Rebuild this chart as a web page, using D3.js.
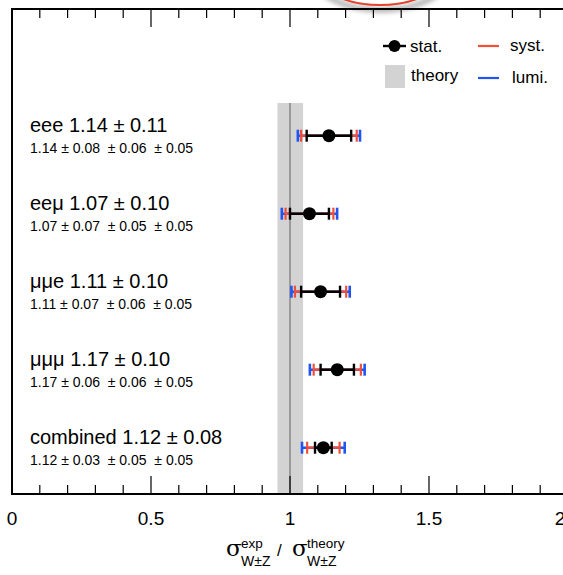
<!DOCTYPE html>
<html>
<head>
<meta charset="utf-8">
<script src="https://cdn.jsdelivr.net/npm/d3@7"></script>
<style>
  body { margin: 0; background: white; }
  svg { display: block; font-family: "Liberation Sans", Arial, sans-serif; }
</style>
</head>
<body>
<div id="chart"></div>
<script>
// chart values
const channels = ["eee", "eeμ", "μμe", "μμμ", "combined"];
const central = [1.14, 1.07, 1.11, 1.17, 1.12];
const totalErr = ["0.11", "0.10", "0.10", "0.10", "0.08"];
const statErr = [0.08, 0.07, 0.07, 0.06, 0.03];
const systErr = [0.06, 0.05, 0.06, 0.06, 0.05];
const lumiErr = [0.05, 0.05, 0.05, 0.05, 0.05];
const theoryBand = [0.955, 1.047];
const xTicks = [0, 0.5, 1, 1.5, 2];

const width = 563;
const height = 575;

const svg = d3.select("#chart").append("svg")
  .attr("width", width).attr("height", height);

const frame = { left: 12, top: 9, right: 568, bottom: 494 };

const x = d3.scaleLinear().domain([0, 2]).range([12, 568]);
const y = d3.scalePoint().domain(channels).range([135.7, 447.7]);

// red oval cut off at the top of the picture
const defs = svg.append("defs");
defs.append("filter").attr("id", "blur")
  .append("feGaussianBlur").attr("stdDeviation", 2.5);
svg.append("ellipse")
  .attr("cx", 381).attr("cy", -26).attr("rx", 66).attr("ry", 33)
  .attr("fill", "none").attr("stroke", "#999").attr("stroke-width", 4)
  .attr("filter", "url(#blur)").attr("transform", "translate(0,3)");
svg.append("ellipse")
  .attr("cx", 380).attr("cy", -28).attr("rx", 64).attr("ry", 33)
  .attr("fill", "white").attr("stroke", "#e3442b").attr("stroke-width", 2);

// theory band and line at 1
svg.append("rect")
  .attr("x", x(theoryBand[0])).attr("y", 103)
  .attr("width", x(theoryBand[1]) - x(theoryBand[0]))
  .attr("height", frame.bottom - 103)
  .attr("fill", "#d3d3d3");
svg.append("line")
  .attr("x1", x(1)).attr("x2", x(1)).attr("y1", 103).attr("y2", frame.bottom)
  .attr("stroke", "#9a9a9a").attr("stroke-width", 2);

// frame
svg.append("path")
  .attr("d", `M${frame.right},${frame.top}H${frame.left}V${frame.bottom}H${frame.right}`)
  .attr("fill", "none").attr("stroke", "black").attr("stroke-width", 2);

// inward ticks on top and bottom
const minor = d3.range(0, 2.001, 0.1);
minor.forEach(v => {
  const major = Math.abs(v * 2 - Math.round(v * 2)) < 1e-6;
  const len = major ? 18 : 9;
  svg.append("line")
    .attr("x1", x(v)).attr("x2", x(v))
    .attr("y1", frame.bottom).attr("y2", frame.bottom - len)
    .attr("stroke", "black").attr("stroke-width", 1.2);
  svg.append("line")
    .attr("x1", x(v)).attr("x2", x(v))
    .attr("y1", frame.top).attr("y2", frame.top + len)
    .attr("stroke", "black").attr("stroke-width", 1.2);
});

svg.selectAll(".tick-label")
  .data(xTicks)
  .enter().append("text")
  .attr("class", "tick-label")
  .attr("x", d => x(d) - (d === 2 ? 8 : 0)).attr("y", 525)
  .attr("text-anchor", "middle")
  .attr("font-size", 19)
  .text(d => d3.format("")(d));

// axis title
const title = svg.append("g").attr("font-size", 13.5);
title.append("text").attr("x", 226).attr("y", 556).attr("font-size", 23)
  .attr("font-family", "'DejaVu Serif', serif").text("σ");
title.append("text").attr("x", 241).attr("y", 548).text("exp");
title.append("text").attr("x", 241).attr("y", 566).attr("font-size", 14).text("W±Z");
title.append("text").attr("x", 277).attr("y", 556).attr("font-size", 17).text("/");
title.append("text").attr("x", 292).attr("y", 556).attr("font-size", 23)
  .attr("font-family", "'DejaVu Serif', serif").text("σ");
title.append("text").attr("x", 307).attr("y", 548).text("theory");
title.append("text").attr("x", 307).attr("y", 566).attr("font-size", 14).text("W±Z");

// measurements
const rows = channels.map((c, i) => ({
  name: c,
  val: central[i],
  tot: totalErr[i],
  stat: statErr[i],
  syst: systErr[i],
  lumi: lumiErr[i],
  statSyst: Math.hypot(statErr[i], systErr[i]),
  all: Math.hypot(statErr[i], systErr[i], lumiErr[i])
}));

const capH = 6;
function errBar(g, d, half, color, w) {
  const yy = y(d.name);
  g.append("line")
    .attr("x1", x(d.val - half)).attr("x2", x(d.val + half))
    .attr("y1", yy).attr("y2", yy)
    .attr("stroke", color).attr("stroke-width", w);
  [d.val - half, d.val + half].forEach(v => {
    g.append("line")
      .attr("x1", x(v)).attr("x2", x(v))
      .attr("y1", yy - capH).attr("y2", yy + capH)
      .attr("stroke", color).attr("stroke-width", w);
  });
}

const marks = svg.append("g");
rows.forEach(d => {
  errBar(marks, d, d.all, "#2255f0", 2.6);
  errBar(marks, d, d.statSyst, "#f0503a", 2.2);
  errBar(marks, d, d.stat, "black", 2.4);
  marks.append("circle")
    .attr("cx", x(d.val)).attr("cy", y(d.name)).attr("r", 6.5)
    .attr("fill", "black");
});

// labels
const fmt = d3.format(".2f");
rows.forEach(d => {
  svg.append("text")
    .attr("x", 30).attr("y", y(d.name) - 4)
    .attr("font-size", 20)
    .text(`${d.name} ${fmt(d.val)} ± ${d.tot}`);
  svg.append("text")
    .attr("x", 30).attr("y", y(d.name) + 17)
    .attr("font-size", 14)
    .attr("xml:space", "preserve")
    .text(`${fmt(d.val)} ± ${fmt(d.stat)}  ± ${fmt(d.syst)}  ± ${fmt(d.lumi)}`);
});

// legend
const legend = svg.append("g").attr("font-size", 17);
legend.append("line").attr("x1", 383).attr("x2", 406).attr("y1", 46).attr("y2", 46)
  .attr("stroke", "black").attr("stroke-width", 2.4);
legend.append("circle").attr("cx", 394.5).attr("cy", 46).attr("r", 6).attr("fill", "black");
legend.append("text").attr("x", 410).attr("y", 52).text("stat.");
legend.append("rect").attr("x", 385).attr("y", 65).attr("width", 20).attr("height", 23)
  .attr("fill", "#d3d3d3");
legend.append("text").attr("x", 411).attr("y", 81).text("theory");
legend.append("line").attr("x1", 478).attr("x2", 499).attr("y1", 46).attr("y2", 46)
  .attr("stroke", "#f0503a").attr("stroke-width", 2.2);
legend.append("text").attr("x", 510).attr("y", 51).text("syst.");
legend.append("line").attr("x1", 478).attr("x2", 499).attr("y1", 78).attr("y2", 78)
  .attr("stroke", "#2255f0").attr("stroke-width", 2.2);
legend.append("text").attr("x", 512).attr("y", 83).text("lumi.");
</script>
</body>
</html>
